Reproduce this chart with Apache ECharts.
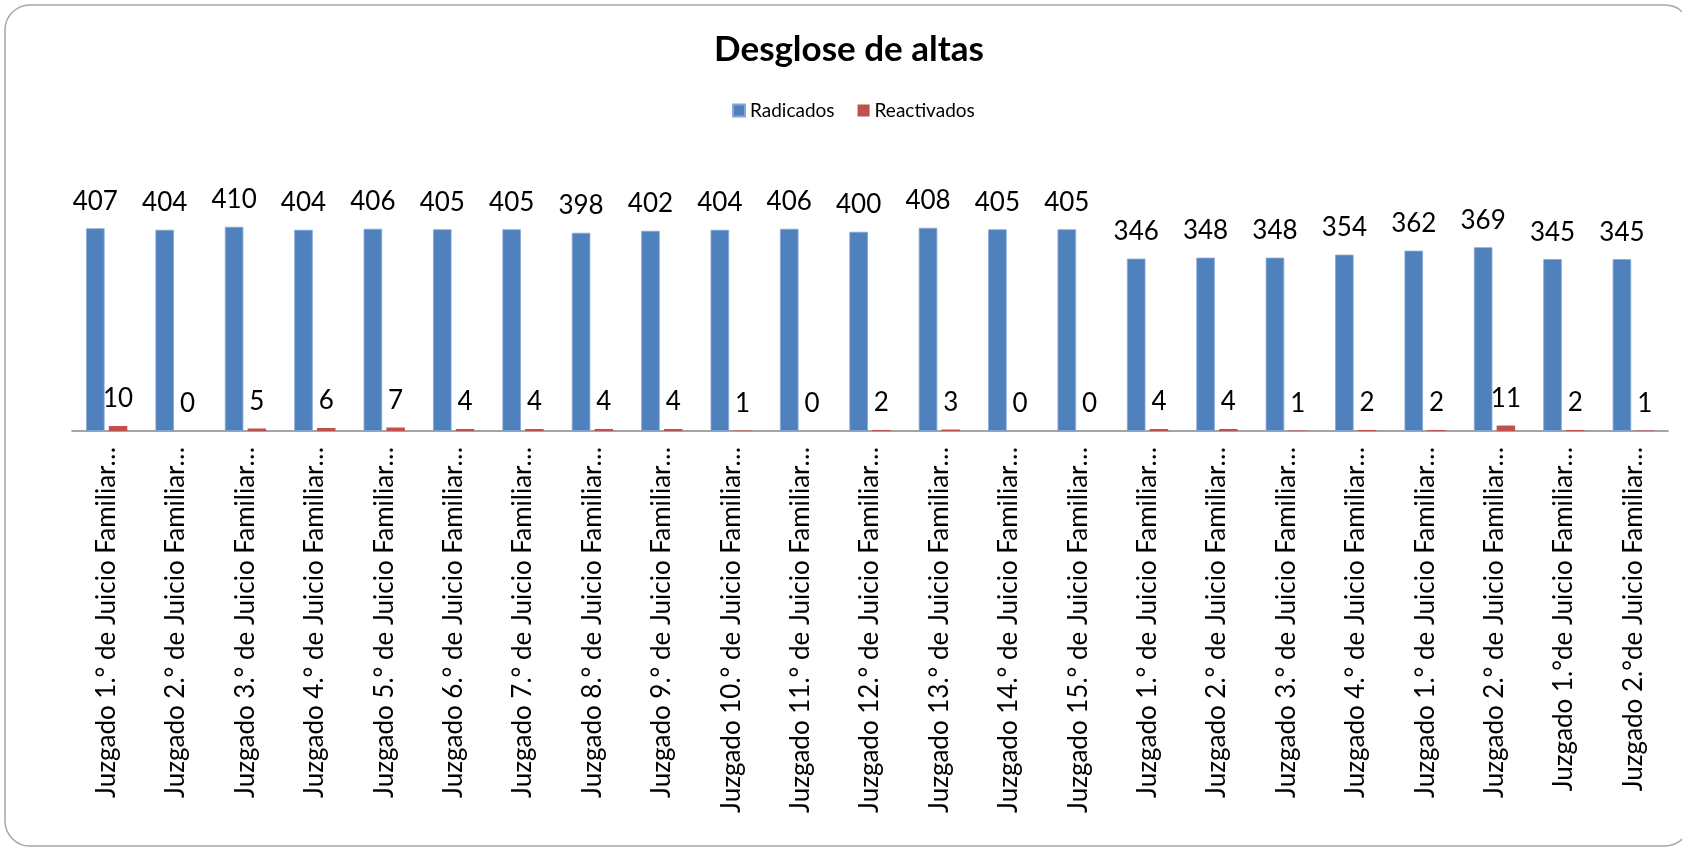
<!DOCTYPE html>
<html>
<head>
<meta charset="utf-8">
<script src="https://cdn.jsdelivr.net/npm/echarts@6/dist/echarts.min.js"></script>
<style>
html,body{margin:0;padding:0;background:#fff;}
#chart{width:1682px;height:848px;}
</style>
</head>
<body>
<div id="chart"></div>
<script>
const categories = [
  'Juzgado 1.° de Juicio Familiar…',
  'Juzgado 2.° de Juicio Familiar…',
  'Juzgado 3.° de Juicio Familiar…',
  'Juzgado 4.° de Juicio Familiar…',
  'Juzgado 5.° de Juicio Familiar…',
  'Juzgado 6.° de Juicio Familiar…',
  'Juzgado 7.° de Juicio Familiar…',
  'Juzgado 8.° de Juicio Familiar…',
  'Juzgado 9.° de Juicio Familiar…',
  'Juzgado 10.° de Juicio Familiar…',
  'Juzgado 11.° de Juicio Familiar…',
  'Juzgado 12.° de Juicio Familiar…',
  'Juzgado 13.° de Juicio Familiar…',
  'Juzgado 14.° de Juicio Familiar…',
  'Juzgado 15.° de Juicio Familiar…',
  'Juzgado 1.° de Juicio Familiar…',
  'Juzgado 2.° de Juicio Familiar…',
  'Juzgado 3.° de Juicio Familiar…',
  'Juzgado 4.° de Juicio Familiar…',
  'Juzgado 1.° de Juicio Familiar…',
  'Juzgado 2.° de Juicio Familiar…',
  'Juzgado 1.°de Juicio Familiar…',
  'Juzgado 2.°de Juicio Familiar…'
];
const radicados = [407, 404, 410, 404, 406, 405, 405, 398, 402, 404, 406, 400, 408, 405, 405, 346, 348, 348, 354, 362, 369, 345, 345];
const reactivados = [10, 0, 5, 6, 7, 4, 4, 4, 4, 1, 0, 2, 3, 0, 0, 4, 4, 1, 2, 2, 11, 2, 1];
const seriesNames = ['Radicados', 'Reactivados'];
const titleText = 'Desglose de altas';

const FONT = 'Lato';
const chart = echarts.init(document.getElementById('chart'), null, {renderer: 'canvas'});
const labelStyle = {
  show: true, position: 'top', distance: 14,
  fontFamily: FONT, fontSize: 26, color: '#000', lineHeight: 26
};
chart.setOption({
  backgroundColor: '#ffffff',
  animation: false,
  graphic: [{
    type: 'rect', silent: true, z: -10,
    shape: {x: 5, y: 5, width: 1685, height: 841, r: 25},
    style: {fill: 'none', stroke: '#a6a6a6', lineWidth: 1.5}
  }],
  title: {
    text: titleText,
    left: 849, top: 32, padding: 0, textAlign: 'center',
    textStyle: {fontFamily: FONT, fontSize: 35, fontWeight: 'bold', color: '#000'}
  },
  legend: {
    data: seriesNames,
    left: 732, top: 101, padding: 0,
    itemWidth: 12, itemHeight: 12, itemGap: 23, icon: 'rect',
    textStyle: {fontFamily: FONT, fontSize: 19, color: '#000'}
  },
  grid: {left: 72, right: 14, top: 182, bottom: 417, containLabel: false},
  xAxis: {
    type: 'category', data: categories,
    axisLine: {show: true, lineStyle: {color: '#868686', width: 1.5}},
    axisTick: {show: false},
    axisLabel: {interval: 0, rotate: 90, margin: 16, fontFamily: FONT, fontSize: 26, color: '#000'}
  },
  yAxis: {
    type: 'value', min: 0, max: 500, show: false,
    splitLine: {show: false}
  },
  series: [
    {
      name: seriesNames[0], type: 'bar', data: radicados,
      barWidth: 18.5, barGap: '23%',
      itemStyle: {color: '#4F81BD', borderColor: '#86a8d4', borderWidth: 0.8},
      label: labelStyle
    },
    {
      name: seriesNames[1], type: 'bar', data: reactivados,
      barWidth: 18.5, barGap: '23%',
      itemStyle: {color: '#C0504D'},
      label: labelStyle
    }
  ]
});
</script>
</body>
</html>
